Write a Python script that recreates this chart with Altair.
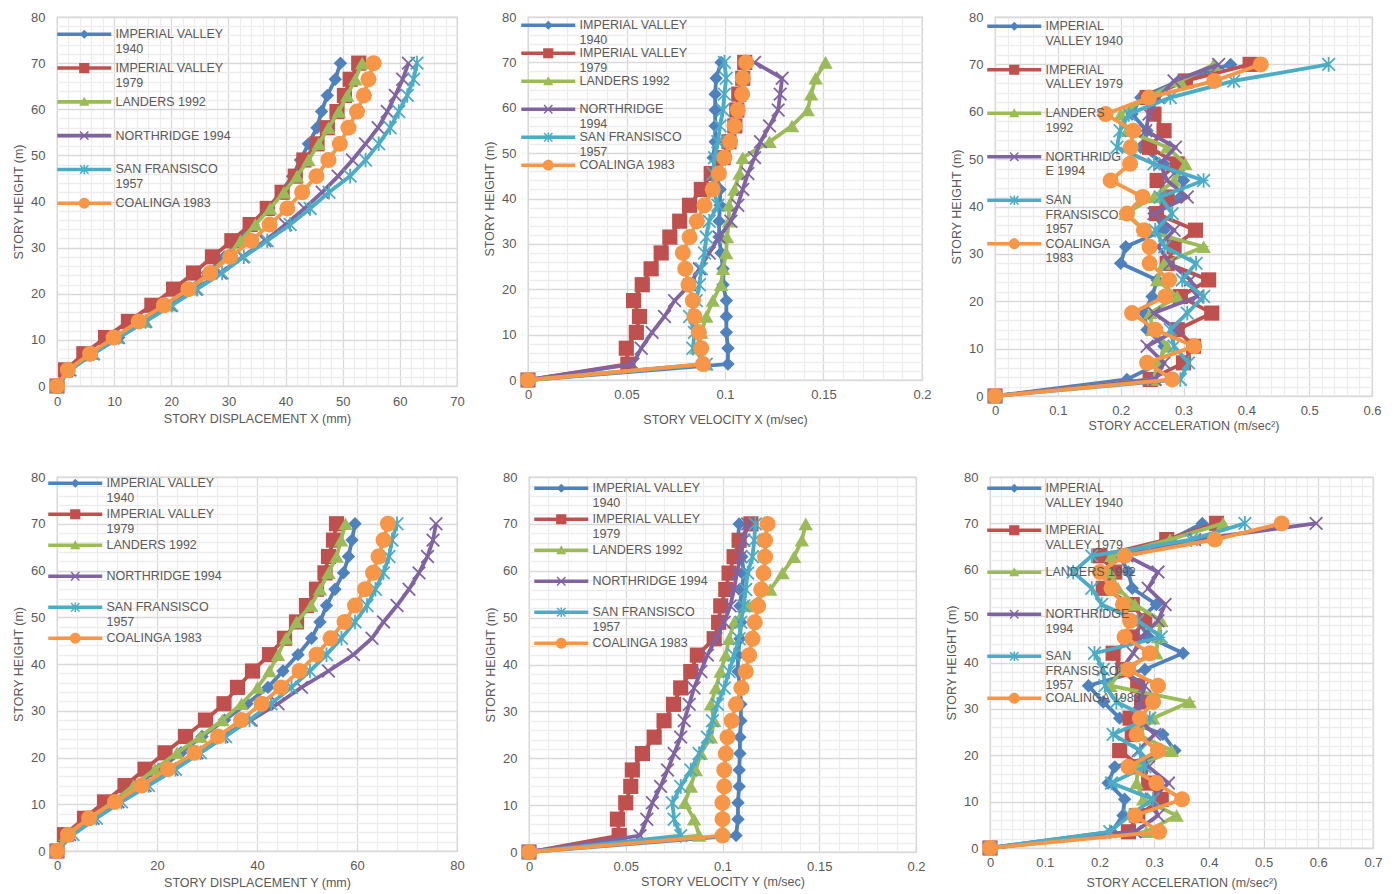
import json
import altair as alt
import pandas as pd

# ---------------- data ----------------
HEIGHTS = [0, 3.5, 7, 10.5, 14, 17.5, 21, 24.5, 28, 31.5, 35, 38.5, 42,
           45.5, 49, 52.5, 56, 59.5, 63, 66.5, 70]

SERIES = ["IMPERIAL VALLEY 1940", "IMPERIAL VALLEY 1979", "LANDERS 1992",
          "NORTHRIDGE 1994", "SAN FRANSISCO 1957", "COALINGA 1983"]
COLORS = ["#4F81BD", "#C0504D", "#9BBB59", "#8064A2", "#4BACC6", "#F79646"]

DISP_X = {
    "IMPERIAL VALLEY 1940": [0, 2.0, 6.0, 10.8, 15.0, 19.0, 23.0, 26.3, 29.3, 31.7, 34.3, 36.9, 39.2, 41.2, 42.6, 44.0, 45.5, 46.3, 47.3, 48.7, 49.6],
    "IMPERIAL VALLEY 1979": [0, 1.5, 4.7, 8.5, 12.5, 16.6, 20.4, 23.9, 27.2, 30.6, 33.8, 36.8, 39.4, 41.7, 43.2, 45.5, 47.3, 49.0, 50.3, 51.3, 52.8],
    "LANDERS 1992": [0, 2.0, 6.1, 10.5, 15.5, 19.5, 23.6, 26.8, 29.8, 32.1, 34.7, 37.3, 39.7, 42.0, 44.0, 45.8, 47.5, 49.3, 50.8, 52.2, 53.4],
    "NORTHRIDGE 1994": [0, 2.2, 6.3, 10.7, 15.4, 19.9, 24.3, 28.6, 32.5, 36.4, 40.0, 43.3, 46.4, 49.2, 51.7, 54.0, 56.2, 57.8, 59.2, 60.5, 61.5],
    "SAN FRANSISCO 1957": [0, 2.3, 6.4, 10.8, 15.5, 20.1, 24.5, 28.9, 32.7, 36.8, 40.8, 44.3, 47.6, 51.3, 54.0, 56.3, 58.3, 59.8, 61.3, 62.4, 63.0],
    "COALINGA 1983": [0, 1.9, 5.8, 9.9, 14.3, 18.7, 23.0, 26.8, 30.3, 34.0, 37.2, 40.3, 42.9, 45.4, 47.5, 49.5, 51.0, 52.5, 53.7, 54.5, 55.4],
}
VEL_X = {
    "IMPERIAL VALLEY 1940": [0, 0.1015, 0.1015, 0.1007, 0.1007, 0.1007, 0.099, 0.099, 0.098, 0.097, 0.097, 0.0975, 0.0975, 0.0955, 0.094, 0.095, 0.095, 0.095, 0.095, 0.0955, 0.098],
    "IMPERIAL VALLEY 1979": [0, 0.0507, 0.0499, 0.055, 0.0566, 0.0536, 0.058, 0.0625, 0.0676, 0.072, 0.077, 0.082, 0.088, 0.093, 0.099, 0.102, 0.105, 0.106, 0.107, 0.109, 0.110],
    "LANDERS 1992": [0, 0.0905, 0.0854, 0.088, 0.0905, 0.0938, 0.098, 0.099, 0.1006, 0.101, 0.102, 0.102, 0.1048, 0.1074, 0.109, 0.1226, 0.134, 0.142, 0.1437, 0.146, 0.151],
    "NORTHRIDGE 1994": [0, 0.0533, 0.0575, 0.063, 0.0693, 0.0744, 0.082, 0.087, 0.092, 0.097, 0.103, 0.1065, 0.109, 0.1116, 0.115, 0.118, 0.1226, 0.127, 0.128, 0.129, 0.115],
    "SAN FRANSISCO 1957": [0, 0.0905, 0.0837, 0.0845, 0.082, 0.0854, 0.087, 0.088, 0.0896, 0.0905, 0.092, 0.0964, 0.094, 0.094, 0.0947, 0.0964, 0.0975, 0.099, 0.0997, 0.1006, 0.0997],
    "COALINGA 1983": [0, 0.0888, 0.0879, 0.0867, 0.0845, 0.0837, 0.0815, 0.0798, 0.0786, 0.082, 0.0857, 0.0896, 0.0938, 0.0969, 0.0997, 0.1026, 0.1048, 0.1065, 0.1087, 0.109, 0.1107],
}
ACC_X = {
    "IMPERIAL VALLEY 1940": [0, 0.21, 0.263, 0.269, 0.242, 0.237, 0.25, 0.258, 0.20, 0.208, 0.269, 0.253, 0.295, 0.30, 0.269, 0.232, 0.242, 0.218, 0.232, 0.292, 0.375],
    "IMPERIAL VALLEY 1979": [0, 0.247, 0.30, 0.316, 0.29, 0.345, 0.295, 0.34, 0.274, 0.285, 0.319, 0.257, 0.274, 0.258, 0.29, 0.246, 0.269, 0.253, 0.242, 0.303, 0.406],
    "LANDERS 1992": [0, 0.253, 0.258, 0.274, 0.25, 0.247, 0.29, 0.258, 0.269, 0.332, 0.237, 0.208, 0.253, 0.285, 0.303, 0.274, 0.21, 0.20, 0.242, 0.295, 0.348],
    "NORTHRIDGE 1994": [0, 0.255, 0.269, 0.242, 0.29, 0.253, 0.322, 0.311, 0.279, 0.26, 0.285, 0.253, 0.306, 0.274, 0.263, 0.287, 0.24, 0.245, 0.26, 0.285, 0.356],
    "SAN FRANSISCO 1957": [0, 0.295, 0.308, 0.285, 0.279, 0.306, 0.332, 0.298, 0.32, 0.27, 0.255, 0.282, 0.263, 0.332, 0.253, 0.194, 0.199, 0.213, 0.279, 0.38, 0.531],
    "COALINGA 1983": [0, 0.282, 0.242, 0.317, 0.255, 0.218, 0.271, 0.277, 0.246, 0.246, 0.237, 0.21, 0.235, 0.184, 0.215, 0.216, 0.22, 0.176, 0.245, 0.349, 0.423],
}
DISP_Y = {
    "IMPERIAL VALLEY 1940": [0, 2.4, 6.6, 11.0, 15.6, 20.4, 24.8, 29.0, 33.5, 38.0, 42.2, 45.2, 48.2, 50.9, 52.6, 53.9, 55.6, 57.3, 58.3, 59.0, 59.6],
    "IMPERIAL VALLEY 1979": [0, 1.5, 5.5, 9.5, 13.6, 17.6, 21.6, 25.7, 29.7, 33.4, 36.1, 39.1, 42.5, 45.5, 47.9, 49.9, 51.9, 53.6, 54.3, 55.3, 55.9],
    "LANDERS 1992": [0, 1.8, 6.5, 11.2, 15.3, 19.6, 24.0, 28.7, 33.1, 36.9, 40.1, 42.5, 44.2, 45.8, 47.9, 50.8, 52.6, 54.3, 55.9, 56.8, 57.7],
    "NORTHRIDGE 1994": [0, 2.5, 7.2, 12.2, 17.6, 23.0, 28.0, 33.0, 38.8, 44.2, 48.9, 54.3, 59.3, 63.0, 65.3, 68.0, 70.4, 72.4, 74.1, 75.2, 75.8],
    "SAN FRANSISCO 1957": [0, 3.2, 7.9, 12.9, 18.3, 23.7, 28.7, 33.7, 38.5, 42.8, 46.9, 50.6, 53.9, 56.9, 59.6, 62.0, 63.7, 65.3, 66.4, 67.0, 68.0],
    "COALINGA 1983": [0, 2.2, 6.4, 11.6, 16.9, 22.2, 27.5, 32.2, 36.8, 40.9, 44.8, 48.5, 51.9, 54.7, 57.5, 59.6, 61.6, 63.2, 64.3, 65.3, 66.2],
}
VEL_Y = {
    "IMPERIAL VALLEY 1940": [0, 0.107, 0.108, 0.108, 0.1086, 0.1086, 0.109, 0.109, 0.1095, 0.1095, 0.109, 0.108, 0.108, 0.109, 0.1095, 0.109, 0.110, 0.111, 0.110, 0.108, 0.1086],
    "IMPERIAL VALLEY 1979": [0, 0.0466, 0.0457, 0.050, 0.0526, 0.0534, 0.0586, 0.0647, 0.0698, 0.0747, 0.0784, 0.0836, 0.087, 0.0957, 0.098, 0.0991, 0.1017, 0.1034, 0.106, 0.1086, 0.1147],
    "LANDERS 1992": [0, 0.088, 0.0853, 0.0805, 0.0836, 0.0862, 0.0888, 0.094, 0.0957, 0.094, 0.0966, 0.099, 0.1017, 0.1034, 0.106, 0.113, 0.1247, 0.131, 0.137, 0.141, 0.143],
    "NORTHRIDGE 1994": [0, 0.0574, 0.0609, 0.0638, 0.068, 0.0716, 0.075, 0.0784, 0.0802, 0.0828, 0.0853, 0.0888, 0.0922, 0.0966, 0.1009, 0.104, 0.106, 0.1074, 0.1095, 0.111, 0.113],
    "SAN FRANSISCO 1957": [0, 0.0784, 0.075, 0.0741, 0.0784, 0.0836, 0.0879, 0.0922, 0.0948, 0.0974, 0.1009, 0.1034, 0.106, 0.1086, 0.1095, 0.111, 0.112, 0.113, 0.1155, 0.1164, 0.117],
    "COALINGA 1983": [0, 0.100, 0.100, 0.100, 0.1009, 0.1009, 0.1017, 0.1026, 0.1047, 0.1069, 0.1098, 0.112, 0.1138, 0.1155, 0.1167, 0.1184, 0.120, 0.1212, 0.122, 0.122, 0.1233],
}
ACC_Y = {
    "IMPERIAL VALLEY 1940": [0, 0.222, 0.243, 0.246, 0.216, 0.228, 0.338, 0.316, 0.237, 0.207, 0.18, 0.283, 0.353, 0.29, 0.27, 0.304, 0.26, 0.253, 0.237, 0.33, 0.388],
    "IMPERIAL VALLEY 1979": [0, 0.253, 0.27, 0.313, 0.29, 0.275, 0.237, 0.26, 0.256, 0.277, 0.27, 0.243, 0.225, 0.26, 0.283, 0.26, 0.207, 0.228, 0.201, 0.323, 0.414],
    "LANDERS 1992": [0, 0.286, 0.341, 0.28, 0.268, 0.27, 0.332, 0.27, 0.298, 0.365, 0.22, 0.24, 0.304, 0.307, 0.313, 0.265, 0.234, 0.219, 0.222, 0.329, 0.426],
    "NORTHRIDGE 1994": [0, 0.265, 0.307, 0.295, 0.326, 0.29, 0.271, 0.301, 0.27, 0.274, 0.283, 0.24, 0.262, 0.277, 0.307, 0.32, 0.289, 0.307, 0.25, 0.374, 0.596],
    "SAN FRANSISCO 1957": [0, 0.219, 0.255, 0.298, 0.222, 0.283, 0.274, 0.225, 0.292, 0.231, 0.21, 0.207, 0.191, 0.313, 0.27, 0.204, 0.186, 0.152, 0.186, 0.368, 0.466],
    "COALINGA 1983": [0, 0.309, 0.265, 0.351, 0.304, 0.253, 0.307, 0.268, 0.274, 0.298, 0.307, 0.253, 0.292, 0.246, 0.256, 0.243, 0.222, 0.201, 0.246, 0.411, 0.533],
}

# legend label wrapping as it appears in each panel
WRAP_WIDE = {
    "IMPERIAL VALLEY 1940": ["IMPERIAL VALLEY", "1940"],
    "IMPERIAL VALLEY 1979": ["IMPERIAL VALLEY", "1979"],
    "LANDERS 1992": ["LANDERS 1992"],
    "NORTHRIDGE 1994": ["NORTHRIDGE 1994"],
    "SAN FRANSISCO 1957": ["SAN FRANSISCO", "1957"],
    "COALINGA 1983": ["COALINGA 1983"],
}
WRAP_VX = dict(WRAP_WIDE, **{"NORTHRIDGE 1994": ["NORTHRIDGE", "1994"]})
WRAP_AX = {
    "IMPERIAL VALLEY 1940": ["IMPERIAL", "VALLEY 1940"],
    "IMPERIAL VALLEY 1979": ["IMPERIAL", "VALLEY 1979"],
    "LANDERS 1992": ["LANDERS", "1992"],
    "NORTHRIDGE 1994": ["NORTHRIDG", "E 1994"],
    "SAN FRANSISCO 1957": ["SAN", "FRANSISCO", "1957"],
    "COALINGA 1983": ["COALINGA", "1983"],
}
WRAP_AY = {
    "IMPERIAL VALLEY 1940": ["IMPERIAL", "VALLEY 1940"],
    "IMPERIAL VALLEY 1979": ["IMPERIAL", "VALLEY 1979"],
    "LANDERS 1992": ["LANDERS 1992"],
    "NORTHRIDGE 1994": ["NORTHRIDGE", "1994"],
    "SAN FRANSISCO 1957": ["SAN", "FRANSISCO", "1957"],
    "COALINGA 1983": ["COALINGA 1983"],
}

# ---------------- styles ----------------
FONT = "Liberation Sans"
TXT = "#595959"
LEG_FS = 12.5
LEG_UNIT = 6.0           # sqrt(symbolSize) / 2
X_PATH = "M-1,-1L1,1M1,-1L-1,1"
STAR_PATH = "M-1,-1L1,1M1,-1L-1,1M0,-1.15L0,1.15"
MARKERS = [
    dict(shape="diamond", filled=True, size=180),
    dict(shape="square", filled=True, size=230),
    dict(shape="triangle-up", filled=True, size=210),
    dict(shape=X_PATH, filled=False, size=160, strokeWidth=1.8),
    dict(shape=STAR_PATH, filled=False, size=160, strokeWidth=1.8),
    dict(shape="circle", filled=True, size=256),
]


def poly(pts):
    return "M" + "L".join(f"{x:.3f},{y:.3f}" for x, y in pts) + "Z"


def legend_path(kind):
    line = poly([(-4.5, -0.3), (4.5, -0.3), (4.5, 0.3), (-4.5, 0.3)])
    a, t = 0.7, 0.085
    xbars = (poly([(-a + t, -a - t), (a + t, a - t), (a - t, a + t), (-a - t, -a + t)])
             + poly([(a + t, -a + t), (-a + t, a + t), (-a - t, a - t), (a - t, -a - t)]))
    if kind == 0:
        return line + poly([(-0.75, 0), (0, -0.75), (0.75, 0), (0, 0.75)])
    if kind == 1:
        return line + poly([(-0.85, -0.85), (0.85, -0.85), (0.85, 0.85), (-0.85, 0.85)])
    if kind == 2:
        return line + poly([(0, -0.85), (0.85, 0.65), (-0.85, 0.65)])
    if kind == 3:
        return line + xbars
    if kind == 4:
        return line + xbars + poly([(-0.12, -0.8), (0.12, -0.8), (0.12, 0.8), (-0.12, 0.8)])
    r = 0.9
    return line + f"M{-r},0A{r},{r} 0 1,1 {r},0A{r},{r} 0 1,1 {-r},0Z"


LEGEND_PATHS = [legend_path(i) for i in range(len(SERIES))]


def tick_values(xmax, step):
    n = int(round(xmax / step))
    return [round(i * step, 6) for i in range(n + 1)]


def make_axis(title, values, major, lab_pad, title_pad):
    test = f"abs(datum.value / {major} - round(datum.value / {major})) < 0.001"
    return alt.Axis(
        title=title, values=values, grid=True,
        gridColor={"condition": {"test": test, "value": "#d9d9d9"}, "value": "#ededed"},
        gridWidth=1.3,
        labelExpr=f"({test}) ? datum.label : ''", format="~g",
        ticks=False, tickSize=0, domain=False, labelOverlap=False, labelFlush=False,
        labelPadding=lab_pad, titlePadding=title_pad,
        labelFont=FONT, labelFontSize=13, labelColor=TXT,
        titleFont=FONT, titleFontSize=12.5, titleFontWeight="normal", titleColor=TXT,
    )


def label_expr(wrap):
    expr = "[datum.label]"
    for s in reversed(SERIES):
        expr = f"datum.label === '{s}' ? {json.dumps(wrap[s])} : ({expr})"
    return expr


def panel(values, xtitle, xmax, major, minor, width, height, wrap, lx, ly, row_pad,
          xlab_pad, xtitle_pad):
    xaxis = make_axis(xtitle, tick_values(xmax, minor), major, xlab_pad, xtitle_pad)
    yaxis = make_axis("STORY HEIGHT (m)", tick_values(80, 2), 10, 12, 5)
    xenc = alt.X("v:Q", scale=alt.Scale(domain=[0, xmax], nice=False, zero=True), axis=xaxis)
    yenc = alt.Y("h:Q", scale=alt.Scale(domain=[0, 80], nice=False), axis=yaxis)
    layers = []
    for i, s in enumerate(SERIES):
        df = pd.DataFrame({"h": HEIGHTS, "v": values[s], "series": s})
        base = alt.Chart(df)
        layers.append(base.mark_line(color=COLORS[i], strokeWidth=3.8)
                      .encode(x=xenc, y=yenc, order=alt.Order("h:Q")))
        layers.append(base.mark_point(color=COLORS[i], opacity=1, **MARKERS[i])
                      .encode(x=xenc, y=yenc))
    leg = alt.Legend(
        title=None, orient="none", legendX=lx, legendY=ly, direction="vertical",
        symbolSize=(2 * LEG_UNIT) ** 2, symbolStrokeWidth=0, symbolOpacity=1,
        labelExpr=label_expr(wrap), labelFont=FONT, labelFontSize=LEG_FS, labelColor=TXT,
        labelBaseline="middle", labelOffset=25, labelLimit=400, rowPadding=row_pad,
        gridAlign="all", padding=0,
    )
    key_df = pd.DataFrame({"series": SERIES})
    legend_layer = (alt.Chart(key_df).transform_filter("false")
                    .mark_point(filled=True, opacity=1)
                    .encode(color=alt.Color("series:N", scale=alt.Scale(domain=SERIES, range=COLORS), legend=leg),
                            shape=alt.Shape("series:N", scale=alt.Scale(domain=SERIES, range=LEGEND_PATHS), legend=leg)))
    return alt.layer(*layers, legend_layer).properties(width=width, height=height)


p1 = panel(DISP_X, "STORY DISPLACEMENT X (mm)", 70, 10, 2, 400, 369, WRAP_WIDE, 21, 11, 5.8, 9.5, 4)
p2 = panel(VEL_X, "STORY VELOCITY X (m/sec)", 0.2, 0.05, 0.01, 394, 363, WRAP_VX, 14, 2, 0, 8.5, 12)
p3 = panel(ACC_X, "STORY ACCELERATION (m/sec²)", 0.6, 0.1, 0.02, 377, 379, WRAP_AX, 13, 3, 1.5, 8.5, 1.5)
p4 = panel(DISP_Y, "STORY DISPLACEMENT Y (mm)", 80, 20, 4, 400, 374, WRAP_WIDE, 12, 0, 3, 8.5, 4)
p5 = panel(VEL_Y, "STORY VELOCITY Y (m/sec)", 0.2, 0.05, 0.01, 387, 375, WRAP_WIDE, 26, 5, 3, 8.5, 1.5)
p6 = panel(ACC_Y, "STORY ACCELERATION (m/sec²)", 0.7, 0.1, 0.02, 383, 371, WRAP_AY, 18, 5, 0, 8.5, 7)

row1 = alt.hconcat(p1, p2, p3, spacing=17).resolve_scale(color="independent", shape="independent")
row2 = alt.hconcat(p4, p5, p6, spacing=18).resolve_scale(color="independent", shape="independent")
chart = (alt.vconcat(row1, row2, spacing=37)
         .resolve_scale(color="independent", shape="independent")
         .properties(padding={"left": 11, "top": 10, "right": 5, "bottom": 0}, background="white")
         .configure_view(stroke="#d9d9d9", strokeWidth=1.3))

chart.save("out.html", embed_options={"renderer": "svg", "actions": False})
